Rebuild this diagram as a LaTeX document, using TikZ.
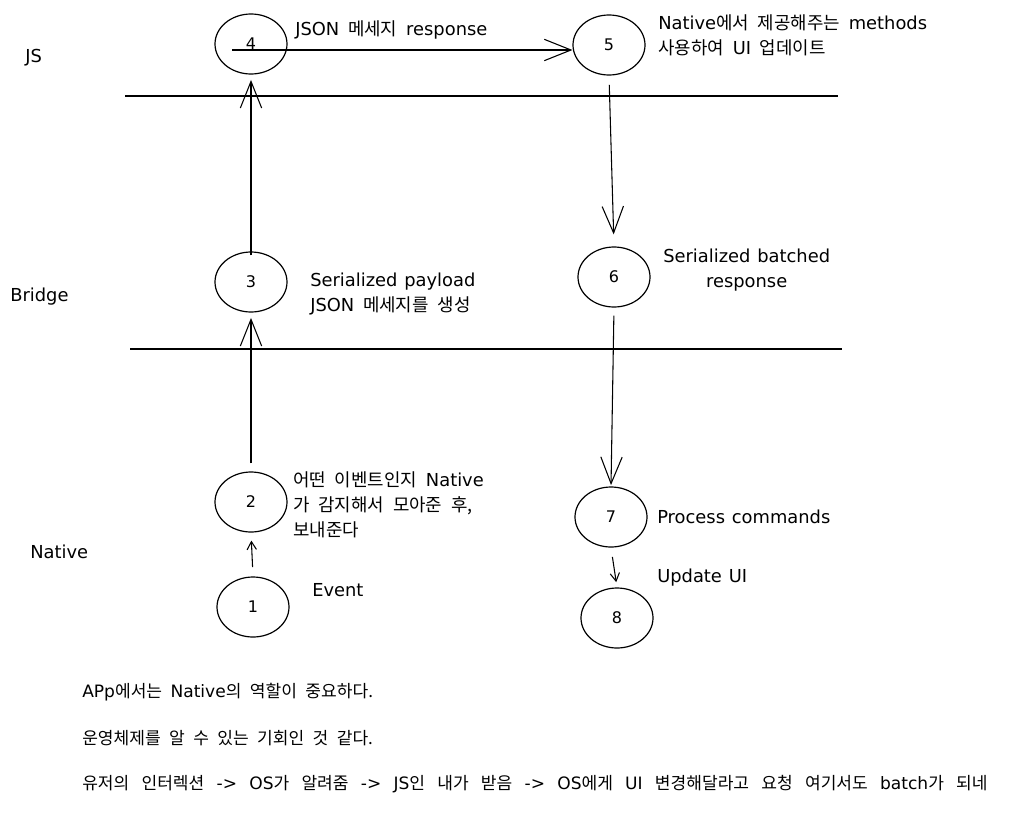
\documentclass[tikz,border=0pt]{standalone}
\usepackage{fontspec}
\setmainfont[WordSpace=2.2]{Noto Sans CJK KR}
\newfontfamily\krwide[WordSpace=3.2]{Noto Sans CJK KR}
\newfontfamily\lat[WordSpace=1.2]{DejaVu Sans}
\usetikzlibrary{arrows.meta,shapes.geometric}
\begin{document}
\begin{tikzpicture}[x=0.75pt,y=-0.75pt,
  stepnode/.style={draw, ellipse, line width=0.9pt, minimum width=54pt, minimum height=45pt, inner sep=0pt, font=\lat\fontsize{12}{14}\selectfont},
  txt/.style={anchor=west, inner sep=0pt, align=left, font=\fontsize{13.4}{18.75}\selectfont},
  note/.style={anchor=west, inner sep=0pt, font=\fontsize{12.8}{15}\selectfont},
  sepline/.style={line width=0.9pt},
  conn/.style={line width=0.8pt, -{Straight Barb[length=20pt,width=16pt,line width=0.8pt]}},
  smallconn/.style={line width=0.8pt, -{Straight Barb[length=6pt,width=7pt,line width=0.8pt]}}]
\useasboundingbox (0,0) rectangle (1036,814);
% layer lines
\coordinate (l1a) at (125,96);
\coordinate (l1b) at (838,96);
\coordinate (l2a) at (130,349);
\coordinate (l2b) at (842,349);
\draw[sepline] (l1a) -- (l1b);
\draw[sepline] (l2a) -- (l2b);
% nodes
\node[stepnode] (n4) at (251,44) {4};
\node[stepnode] (n5) at (609,45) {5};
\node[stepnode] (n3) at (251,282) {3};
\node[stepnode] (n6) at (614,277) {6};
\node[stepnode] (n2) at (251,502) {2};
\node[stepnode] (n7) at (611,517) {7};
\node[stepnode] (n1) at (253,607) {1};
\node[stepnode] (n8) at (617,618) {8};
% layer labels
\node[txt] (tjs) at (25,58) {\lat JS};
\node[txt] (tbridge) at (10,297) {\lat Bridge};
\node[txt] (tnative) at (30,552) {\lat Native};
% step labels
\node[txt] (t4) at (295,30) {{\lat JSON} 메세지 {\lat response}};
\node[txt] (t5) at (658,35) {{\lat Native}에서 제공해주는 {\lat methods}\\사용하여 {\lat UI} 업데이트};
\node[txt] (t3) at (310,294) {{\lat Serialized payload}\\{\lat JSON} 메세지를 생성};
\node[txt, align=center, font=\lat\fontsize{13.4}{18.75}\selectfont] (t6) at (663,270) {Serialized batched\\response};
\node[txt] (t2) at (293,505) {어떤 이벤트인지 {\lat Native}\\가 감지해서 모아준 후,\\보내준다};
\node[txt] (t7) at (657,517) {\lat Process commands};
\node[txt] (t8) at (657,578) {\lat Update UI};
\node[txt] (t1) at (312,590) {\lat Event};
% notes
\node[note] (b1) at (82,692) {{\lat APp}에서는 {\lat Native}의 역할이 중요하다.};
\node[note] (b2) at (82,738) {운영체제를 알 수 있는 기회인 것 같다.};
\node[note, font=\krwide\fontsize{12.8}{15}\selectfont] (b3) at (82,784) {유저의 인터렉션 {\lat ->} {\lat OS}가 알려줌 {\lat ->} {\lat JS}인 내가 받음 {\lat ->} {\lat OS}에게 {\lat UI} 변경해달라고 요청 여기서도 {\lat batch}가 되네};
% connectors
\coordinate (a4) at (232,50);
\draw[conn] (a4) -- (n5.west |- a4);
\draw[conn, shorten <=-3pt, shorten >=4pt] (n3.north) -- (n4.south);
\draw[conn, shorten <=6pt, shorten >=4pt] (n2.north) -- (n3.south);
\draw[smallconn, shorten <=7pt, shorten >=6pt] (n1.north) -- (n2.south);
\draw[conn, shorten <=7pt, shorten >=9pt] (n5.south) -- (n6.north);
\draw[conn, shorten <=6pt, shorten >=1pt] (n6.south) -- (n7.north);
\draw[smallconn, shorten <=7pt, shorten >=4pt] (n7.south) -- (n8.north);
\end{tikzpicture}
\end{document}
